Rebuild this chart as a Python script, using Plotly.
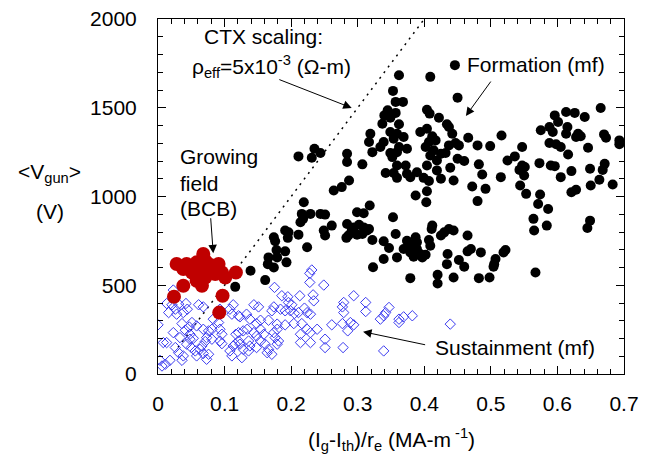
import plotly.graph_objects as go

# ---------------- data ----------------
formation_x = [0.446,0.362,0.409,0.353,0.450,0.357,0.368,0.665,0.345,0.357,0.404,0.408,0.613,0.626,0.596,0.641,0.422,0.340,0.349,
0.337,0.362,0.434,0.601,0.437,0.404,0.575,0.588,0.615,0.593,0.349,0.359,0.394,0.319,0.613,0.442,0.631,0.670,0.516,
0.412,0.628,0.635,0.466,0.369,0.354,0.673,0.693,0.693,0.317,0.339,0.407,0.417,0.447,0.588,0.598,0.605,0.480,0.499,0.362,0.374,0.402,0.334,0.437,0.452,0.547,0.646,
0.235,0.244,0.231,0.211,0.284,0.322,0.349,0.359,0.414,0.425,0.409,0.432,0.616,0.536,0.525,0.450,0.460,0.573,0.671,0.419,0.352,0.284,0.307,0.404,
0.359,0.372,0.482,0.590,0.596,0.547,0.551,0.439,0.649,0.668,0.543,0.342,0.354,0.374,0.389,0.419,0.621,0.487,0.359,0.379,0.399,0.425,0.444,0.515,0.550,0.605,0.663,0.287,0.407,
0.276,0.264,0.544,0.650,0.683,0.472,0.492,0.628,0.621,0.404,0.553,0.574,0.387,0.480,0.403,0.571,0.586,
0.219,0.318,0.299,0.309,0.216,0.229,0.244,0.251,0.218,0.214,0.353,0.564,0.649,0.645,0.565,0.584,0.261,
0.284,0.294,0.302,0.314,0.307,0.299,0.291,0.286,0.283,0.309,0.317,
0.412,0.411,0.249,0.251,0.191,0.196,0.195,0.211,0.174,0.176,
0.437,0.430,0.444,0.425,0.357,0.465,0.322,0.339,
0.374,0.387,0.389,0.379,0.407,0.409,0.347,0.224,
0.178,0.191,0.179,0.166,0.165,0.174,0.193,
0.369,0.379,0.389,0.394,0.397,0.384,0.402,0.359,0.339,
0.470,0.465,0.485,0.522,0.519,0.435,0.452,0.507,0.505,0.504,0.434,0.460,0.323,
0.139,0.161,0.116,0.567,0.420,0.420,0.444,0.379,0.482,0.498]
formation_y = [1740,1683,1674,1595,1557,1533,1533,1499,1486,1471,1489,1467,1476,1471,1457,1448,1444,1457,1444,
1410,1407,1407,1420,1392,1382,1373,1392,1392,1363,1363,1354,1363,1354,1354,1354,1354,1350,1344,
1339,1335,1339,1331,1335,1326,1331,1316,1294,1307,1307,1307,1316,1301,1301,1294,1279,1288,1284,1279,1269,1279,1279,1288,1288,1279,1275,
1269,1245,1218,1226,1241,1250,1245,1250,1260,1241,1231,1245,1237,1226,1203,1213,1200,1188,1184,1203,1222,1194,1181,1175,
1175,1175,1181,1175,1171,1175,1166,1162,1156,1150,1150,1132,1132,1128,1137,1147,1143,1124,1105,1109,1105,1100,1090,1109,1118,1109,1094,1090,1087,
1053,1034,1062,1062,1068,1056,1043,1038,1024,1030,1015,1011,1006,974,968,958,930,
968,949,911,906,902,902,902,898,874,855,883,874,864,823,808,836,836,
845,826,841,808,789,785,808,780,767,826,817,
836,817,808,780,808,798,767,785,770,748,
817,798,808,780,789,780,755,748,
751,770,742,732,755,723,710,714,
699,691,657,657,619,600,629,
704,685,704,676,657,661,672,657,648,
704,691,685,699,685,676,642,648,619,604,619,604,601,
582,529,491,572,559,510,544,540,540,544]

growing_x = [0.068,0.028,0.043,0.058,0.076,0.091,0.063,0.081,0.096,0.051,0.038,0.071,0.101,0.117,
             0.066,0.038,0.024,0.097,0.092,0.073,0.083,0.053,0.071,0.086,0.058]
growing_y = [676,620,620,629,620,620,582,582,572,572,591,544,544,572,
             497,497,435,441,346,600,610,600,638,563,525]

sustain_x = [0.231,0.228,0.249,0.228,0.175,0.023,0.186,0.195,0.213,0.233,0.234,0.196,0.201,0.294,
0.013,0.021,0.031,0.042,0.061,0.068,0.026,0.016,0.028,0.038,0.044,0.093,0.113,0.111,0.121,0.108,
0.144,0.151,0.174,0.171,0.184,0.191,0.199,0.205,0.211,0.220,0.224,0.229,0.279,0.277,0.312,0.312,0.279,
0.347,0.342,0.339,0.334,0.362,0.369,0.382,0.362,0.439,0.000,0.036,0.051,0.058,0.083,0.091,
0.123,0.133,0.138,0.154,0.166,0.148,0.179,0.191,0.204,0.216,0.261,0.277,0.289,0.294,0.285,
0.023,0.008,0.013,0.047,0.041,0.048,0.053,0.068,0.076,0.073,0.071,0.081,0.093,0.096,
0.121,0.117,0.121,0.116,0.128,0.134,0.144,0.148,0.154,0.159,0.154,0.161,0.148,0.174,0.179,0.176,
0.214,0.214,0.229,0.229,0.224,0.239,0.251,0.251,0.278,0.339,
0.026,0.031,0.038,0.043,0.050,0.036,0.003,0.011,0.018,0.006,
0.056,0.063,0.068,0.076,0.073,0.058,0.093,0.096,0.113,0.108,0.111,
0.123,0.128,0.136,0.138,0.166,0.171,0.164,0.179,0.181,0.136,0.126,0.081,0.048,0.033,0.066]
sustain_y = [586,567,501,516,488,473,441,435,441,446,412,403,390,441,
397,390,394,397,390,378,365,346,337,346,365,365,390,337,328,365,
390,378,378,356,365,356,356,341,346,371,346,337,403,378,403,352,346,
375,346,328,309,309,322,328,290,281,277,284,290,271,309,290,
322,337,309,303,303,284,281,277,284,284,277,284,290,277,243,
233,177,177,265,247,224,201,252,243,205,183,252,252,224,
233,224,186,168,243,252,233,214,252,224,186,168,149,233,252,205,
224,177,177,233,252,252,196,149,149,130,
149,120,102,168,149,77,77,55,77,45,
130,139,115,111,83,102,186,171,158,130,102,
168,139,186,158,139,111,120,168,186,130,92,196,196,205,158]

ctx_x = [0.03, 0.40]
ctx_y = [150, 2000]

x_ticks = [0, 0.1, 0.2, 0.3, 0.4, 0.5, 0.6, 0.7]
x_labels = ["0", "0.1", "0.2", "0.3", "0.4", "0.5", "0.6", "0.7"]
y_ticks = [0, 500, 1000, 1500, 2000]
y_labels = ["0", "500", "1000", "1500", "2000"]

FONT = "Arial, Liberation Sans, sans-serif"
FS = 21

fig = go.Figure()
fig.add_trace(go.Scatter(x=ctx_x, y=ctx_y, mode="lines",
                         line=dict(color="black", width=1.5, dash="2px,5px"),
                         showlegend=False, hoverinfo="skip"))
fig.add_trace(go.Scatter(x=sustain_x, y=sustain_y, mode="markers", name="Sustainment (mf)",
                         marker=dict(symbol="diamond-open", size=8, color="#3a3af0",
                                     line=dict(width=1, color="#3a3af0")),
                         showlegend=False))
fig.add_trace(go.Scatter(x=growing_x, y=growing_y, mode="markers", name="Growing field (BCB)",
                         marker=dict(symbol="circle", size=14, color="#c00000"),
                         showlegend=False))
fig.add_trace(go.Scatter(x=formation_x, y=formation_y, mode="markers", name="Formation (mf)",
                         marker=dict(symbol="circle", size=10, color="black"),
                         showlegend=False))

axis_common = dict(showline=True, linecolor="black", linewidth=1, mirror="allticks",
                   ticks="inside", ticklen=8, tickcolor="black", tickwidth=1,
                   showgrid=False, zeroline=False, automargin=False,
                   tickfont=dict(family=FONT, size=FS, color="black"))

fig.update_xaxes(range=[0, 0.7], tickvals=x_ticks, ticktext=x_labels,
                 minor=dict(dtick=0.02, ticks="inside", ticklen=5, tickcolor="black", showgrid=False),
                 ticklabelstandoff=11, **axis_common)
fig.update_yaxes(range=[0, 2000], tickvals=y_ticks, ticktext=y_labels,
                 minor=dict(dtick=100, ticks="inside", ticklen=5, tickcolor="black", showgrid=False),
                 ticklabelstandoff=16, **axis_common)

txt = dict(family=FONT, size=FS, color="black")
ann = []
def label(x, y, text, xanchor="center", xref="x", yref="y", yanchor="middle"):
    ann.append(dict(x=x, y=y, xref=xref, yref=yref, text=text, showarrow=False,
                    xanchor=xanchor, yanchor=yanchor, font=txt))
def arrow(x0, y0, x1, y1):
    ann.append(dict(x=x1, y=y1, ax=x0, ay=y0, xref="x", yref="y", axref="x", ayref="y",
                    text="", showarrow=True, arrowhead=2, arrowsize=1.7, arrowwidth=1,
                    arrowcolor="black"))

label(0.158, 1899, "CTX scaling:")
label(0.171, 1730, "ρ<sub>eff</sub>=5x10<sup>-3</sup> (Ω-m)")
arrow(0.180, 1662, 0.291, 1499)
label(0.461, 1741, "Formation (mf)", xanchor="left")
arrow(0.5015, 1656, 0.4625, 1454)
label(0.030, 1228, "Growing", xanchor="left")
label(0.030, 1076, "field", xanchor="left")
label(0.030, 930, "(BCB)", xanchor="left")
arrow(0.079, 886, 0.083, 680)
label(0.413, 152, "Sustainment (mf)", xanchor="left")
arrow(0.4035, 163, 0.308, 238)
# axis titles
label(-0.232, 0.565, "&lt;V<sub>gun</sub>&gt;", xref="paper", yref="paper")
label(-0.232, 0.459, "(V)", xref="paper", yref="paper")
label(0.5, -0.184, "(I<sub>g</sub>-I<sub>th</sub>)/r<sub>e</sub> (MA-m<sup> -1</sup>)", xref="paper", yref="paper")

fig.update_layout(width=648, height=461, margin=dict(l=158, r=24, t=19, b=87),
                  paper_bgcolor="white", plot_bgcolor="white",
                  annotations=ann, font=dict(family=FONT, size=FS, color="black"))

fig.write_html("out.html", config={"displayModeBar": False},
               post_script="document.body.style.margin='0px';document.body.style.padding='0px';")
